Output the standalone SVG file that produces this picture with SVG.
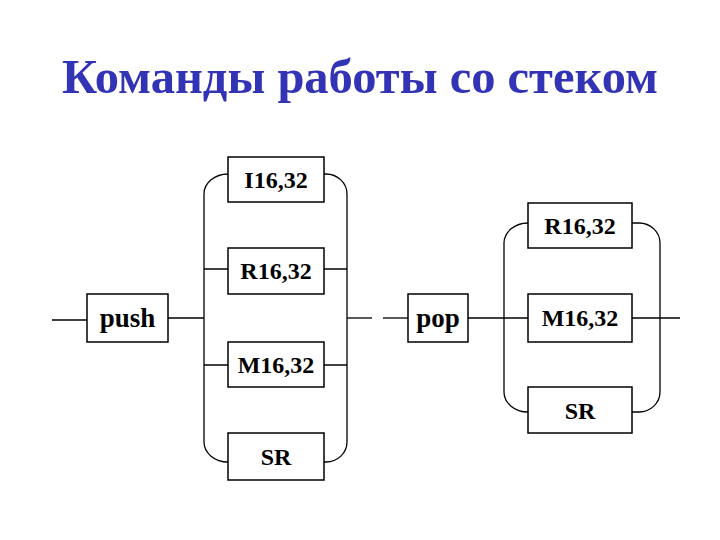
<svg xmlns="http://www.w3.org/2000/svg" width="720" height="540" viewBox="0 0 720 540">
<style>
text{font-family:'Liberation Serif','Times New Roman','DejaVu Serif',serif;font-weight:bold}
.title{font-size:48.5px;fill:#3333B5}
.box{fill:#fff;stroke:#000;stroke-width:1.5}
.lbl{font-size:24px;fill:#000;text-anchor:middle}
.op{font-size:27px}
.ln{fill:none;stroke:#000;stroke-width:1.3}
</style>
<rect width="720" height="540" fill="#fff"/>
<text class="title" x="360" y="93" text-anchor="middle">Команды работы со стеком</text>
<g id="connectors">
<path class="ln" d="M52,320 H87"/>
<path class="ln" d="M168,318 H204"/>
<path class="ln" d="M204,194 A24,20 0 0 1 228,174"/>
<path class="ln" d="M324,174 H326 A21,20 0 0 1 347,194"/>
<path class="ln" d="M204,194 V442"/>
<path class="ln" d="M347,194 V442"/>
<path class="ln" d="M204,442 A24,20 0 0 0 228,462"/>
<path class="ln" d="M324,462 H326 A21,20 0 0 0 347,442"/>
<path class="ln" d="M204,269 H228 M324,269 H347"/>
<path class="ln" d="M204,365 H228 M324,365 H347"/>
<path class="ln" d="M347,318 H372"/>
<path class="ln" d="M383,318 H408"/>
<path class="ln" d="M468,318 H528"/>
<path class="ln" d="M632,318 H680"/>
<path class="ln" d="M504,243 A24,20 0 0 1 528,223"/>
<path class="ln" d="M632,223 H639 A21,20 0 0 1 660,243"/>
<path class="ln" d="M504,243 V392"/>
<path class="ln" d="M660,243 V392"/>
<path class="ln" d="M504,392 A24,20 0 0 0 528,412"/>
<path class="ln" d="M632,412 H639 A21,20 0 0 0 660,392"/>
</g>
<g id="push"><rect class="box" x="87" y="294" width="81" height="48"/><text class="lbl op" x="127.5" y="327">push</text></g>
<g id="i1632"><rect class="box" x="228" y="157" width="96" height="45"/><text class="lbl" x="276" y="188">I16,32</text></g>
<g id="r1632a"><rect class="box" x="228" y="248" width="96" height="46"/><text class="lbl" x="276" y="279">R16,32</text></g>
<g id="m1632a"><rect class="box" x="228" y="342" width="96" height="45"/><text class="lbl" x="276" y="373">M16,32</text></g>
<g id="sra"><rect class="box" x="228" y="433" width="96" height="47"/><text class="lbl" x="276" y="465">SR</text></g>
<g id="pop"><rect class="box" x="408" y="294" width="60" height="48"/><text class="lbl op" x="438" y="327">pop</text></g>
<g id="r1632b"><rect class="box" x="528" y="203" width="104" height="45"/><text class="lbl" x="580" y="234">R16,32</text></g>
<g id="m1632b"><rect class="box" x="528" y="294" width="104" height="48"/><text class="lbl" x="580" y="326">M16,32</text></g>
<g id="srb"><rect class="box" x="528" y="387" width="104" height="46"/><text class="lbl" x="580" y="419">SR</text></g>
</svg>
